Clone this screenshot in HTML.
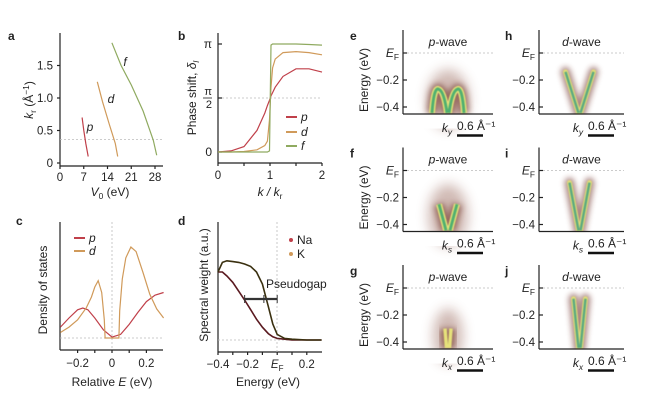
<!DOCTYPE html>
<html><head><meta charset="utf-8">
<style>
body{margin:0;background:#fff;}
svg{font-family:"Liberation Sans",Arial,sans-serif;}
</style></head>
<body>
<svg id="fig" width="650" height="412" viewBox="0 0 650 412" xmlns="http://www.w3.org/2000/svg">
<defs>
<filter id="b0" x="-100%" y="-100%" width="300%" height="300%"><feGaussianBlur stdDeviation="6"/></filter>
<filter id="b1" x="-100%" y="-50%" width="300%" height="200%"><feGaussianBlur stdDeviation="3"/></filter>
<filter id="b2" x="-100%" y="-50%" width="300%" height="200%"><feGaussianBlur stdDeviation="1.5"/></filter>
<filter id="b3" x="-100%" y="-50%" width="300%" height="200%"><feGaussianBlur stdDeviation="0.6"/></filter>
</defs>
<g id="root"></g>
</svg>
<script>
// ---- panel a data ----
const aV_p=[6.5,7.0,7.6,8.3]; const aK_p=[0.7,0.5,0.3,0.1];
const aV_d=[11,12.5,14.5,16.3,17]; const aK_d=[1.25,0.95,0.6,0.3,0.1];
const aV_f=[15.3,18,21,24.5,27.5,28.5]; const aK_f=[1.85,1.5,1.2,0.8,0.35,0.12];
const aXTicks=[0,7,14,21,28]; const aYTicks=[0,0.5,1.0,1.5];
// ---- panel b data ----
const bK=[0,0.25,0.5,0.75,0.9,0.95,0.99,1.02,1.05,1.1,1.25,1.5,1.75,2];
const bP=[0,0.01,0.05,0.2,0.36,0.43,0.48,0.52,0.55,0.6,0.7,0.77,0.77,0.74];
const bD=[0,0,0.005,0.02,0.06,0.1,0.3,0.6,0.78,0.86,0.92,0.93,0.92,0.9];
const bF=[0,0,0,0,0,0,0.01,0.99,1,1,1,1,0.995,0.99];
const bXTicks=[0,1,2];
// ---- panel c data ----
const cE=[-0.3,-0.25,-0.2,-0.17,-0.14,-0.1,-0.05,0,0.05,0.1,0.15,0.2,0.25,0.3];
const cP=[0.12,0.22,0.31,0.33,0.31,0.22,0.09,0.01,0.04,0.15,0.28,0.4,0.47,0.5];
const cDE=[-0.3,-0.25,-0.2,-0.15,-0.12,-0.1,-0.08,-0.06,-0.045,-0.04,0.04,0.045,0.06,0.08,0.11,0.14,0.18,0.22,0.26,0.3];
const cD=[0.06,0.12,0.2,0.33,0.45,0.56,0.63,0.5,0.2,0,0,0.3,0.65,0.88,1.0,0.95,0.72,0.48,0.32,0.22];
const cXTicks=[-0.2,0,0.2];
// ---- panel d data ----
const dE=[-0.4,-0.37,-0.34,-0.3,-0.26,-0.22,-0.18,-0.14,-0.1,-0.06,-0.03,0,0.05,0.1,0.2,0.3];
const dNa=[0.85,0.85,0.8,0.72,0.61,0.5,0.38,0.26,0.16,0.08,0.04,0.02,0.01,0,0,0];
const dKs=[0.85,0.97,0.99,0.98,0.97,0.95,0.92,0.85,0.7,0.42,0.2,0.07,0.02,0.01,0,0];
const dXTicks=[-0.4,-0.2,0,0.2]; const dXLabels=["−0.4","−0.2","E_F","0.2"];
// ---- heatmap panels ----
const hmTitles=["p","d"]; const hmRows=["y","s","x"];
const hmLetters=[["e","h"],["f","i"],["g","j"]];
const hmYTicks=[0,-0.2,-0.4];
const hmTopE=[[-0.27,-0.25,-0.3],[-0.14,-0.09,-0.08]];
const hmSpread=[[9,8,3],[13,9,5]];

const NS="http://www.w3.org/2000/svg";
const root=document.getElementById('root');
function el(tag,attrs,parent,text){const e=document.createElementNS(NS,tag);for(const k in attrs)e.setAttribute(k,attrs[k]);if(text!==undefined)e.textContent=text;(parent||root).appendChild(e);return e;}
function line(x1,y1,x2,y2,st,w,dash){return el('line',{x1,y1,x2,y2,stroke:st||'#222','stroke-width':w||1.2,'stroke-dasharray':dash||'none'});}
function txt(x,y,s,size,anchor,extra,parent){return el('text',Object.assign({x,y,'font-size':size||12,'text-anchor':anchor||'middle',fill:'#222'},extra||{}),parent||root,s);}
function rich(x,y,parts,size,anchor,extra,parent){const t=el('text',Object.assign({x,y,'font-size':size||12,'text-anchor':anchor||'middle',fill:'#222'},extra||{}),parent||root);
 parts.forEach(p=>{const a={};if(p.i)a['font-style']='italic';if(p.sub){a['font-size']=size*0.7;a.dy=3;}if(p.sup){a['font-size']=size*0.7;a.dy=-4;}if(p.back)a.dy=p.back;el('tspan',a,t,p.t);});return t;}
function poly(xs,ys,fx,fy,color,w,name){const d=xs.map((v,i)=>(i?'L':'M')+fx(v).toFixed(1)+','+fy(ys[i]).toFixed(1)).join('');const p=el('path',{d,fill:'none',stroke:color,'stroke-width':w||1.3});

return p;}
const RED='#c0404a',ORG='#d09a5a',GRN='#8faa60',GRID='#bbb';

// ===== panel a =====
const ax=v=>60+v*95/28, ay=k=>163-k*65;
let t=txt(8,40,'a',12,'start',{'font-weight':'bold'});


line(60,33,60,166);line(60,166,163,166);
line(60,ay(0.36),163,ay(0.36),GRID,0.8,'2,2');
aYTicks.forEach(v=>{line(57,ay(v),60,ay(v));txt(53,ay(v)+4,v===0?'0':v.toFixed(1),11.5,'end');});
aXTicks.forEach(v=>{line(ax(v),166,ax(v),169);txt(ax(v),181,String(v),11.5);});
poly(aV_p,aK_p,ax,ay,RED,1.2,'curve-a-p');poly(aV_d,aK_d,ax,ay,ORG,1.2,'curve-a-d');poly(aV_f,aK_f,ax,ay,GRN,1.2,'curve-a-f');
txt(90,131,'p',12,'middle',{'font-style':'italic'});txt(111,103,'d',12,'middle',{'font-style':'italic'});txt(125,66,'f',12,'middle',{'font-style':'italic'});
rich(110,196,[{t:'V',i:1},{t:'0',sub:1},{t:' (eV)',back:-3}],12);
rich(0,0,[{t:'k',i:1},{t:'r',sub:1},{t:' (Å',back:-3},{t:'−1',sup:1},{t:')',back:4}],12,'middle',{transform:'translate(33,100) rotate(-90)'});

// ===== panel b =====
const bx=k=>218+k*52, by=d=>152-d*108;
t=txt(178,40,'b',12,'start',{'font-weight':'bold'});


line(218,33,218,163);line(218,163,322,163);
line(218,by(0.5),322,by(0.5),GRID,0.8,'2,2');
[[0,'0'],[0.5,''],[1,'π']].forEach(([v,s])=>{line(218,by(v),222,by(v));if(s)txt(212,by(v)+4,s,12,'end');});
txt(212,by(0.5)-3,'π',11,'end');line(203,by(0.5),212,by(0.5),'#222',0.8);txt(212,by(0.5)+10,'2',11,'end');
bXTicks.forEach(v=>{line(bx(v),163,bx(v),166);txt(bx(v),179,String(v),11.5);});
[0.5,1.5].forEach(v=>line(bx(v),163,bx(v),166));
poly(bK,bP,bx,by,RED,1.2,'curve-b-p');poly(bK,bD,bx,by,ORG,1.2,'curve-b-d');poly(bK,bF,bx,by,GRN,1.2,'curve-b-f');
[['p',RED,117],['d',ORG,132],['f',GRN,146]].forEach(([s,c,y])=>{const l=line(286,y,297,y,c,2);txt(301,y+4,s,12,'start',{'font-style':'italic'});});
rich(270,196,[{t:'k / k',i:1},{t:'r',sub:1}],12);
rich(0,0,[{t:'Phase shift, '},{t:'δ',i:1},{t:'l',sub:1,i:1}],12,'middle',{transform:'translate(196,98) rotate(-90)'});

// ===== panel c =====
const cx=e=>112+e*172, cy=v=>338-v*91;
t=txt(16,225,'c',12,'start',{'font-weight':'bold'});


line(60,222,60,350);line(60,350,163,350);
line(60,338,163,338,GRID,0.8,'2,2');line(112,222,112,350,GRID,0.8,'2,2');
cXTicks.forEach(v=>{line(cx(v),350,cx(v),353);txt(cx(v),367,v===0?'0':(v<0?'−':'')+Math.abs(v).toFixed(1),11.5);});
[-0.1,0.1].forEach(v=>line(cx(v),350,cx(v),353));
poly(cE,cP,cx,cy,RED,1.2,'curve-c-p');poly(cDE,cD,cx,cy,ORG,1.2,'curve-c-d');
[['p',RED,238],['d',ORG,251]].forEach(([s,c,y])=>{line(74,y,85,y,c,2);txt(89,y+4,s,12,'start',{'font-style':'italic'});});
rich(112,386,[{t:'Relative '},{t:'E',i:1},{t:' (eV)'}],12);
txt(0,0,'Density of states',12,'middle',{transform:'translate(47,290) rotate(-90)'});

// ===== panel d =====
const dx=e=>218+(e+0.4)*148, dy=w=>340-w*80;
t=txt(178,225,'d',12,'start',{'font-weight':'bold'});


line(218,222,218,352);line(218,352,322,352);
line(218,340,322,340,GRID,0.8,'2,2');line(277,222,277,352,GRID,0.8,'2,2');
dXTicks.forEach((v,i)=>{line(dx(v),352,dx(v),355);const s=dXLabels[i];if(s==='E_F'){rich(dx(v),368,[{t:'E',i:1},{t:'F',sub:1}],11.5);}else txt(dx(v),368,s,11.5);});
[-0.3,-0.1,0.1].forEach(v=>line(dx(v),352,dx(v),355));
poly(dE,dNa,dx,dy,'#5a1a20',1.6,'curve-d-na');poly(dE,dKs,dx,dy,'#3a3010',1.6,'curve-d-k');
line(dx(-0.22),299,dx(0),299,'#333',2.2);line(dx(-0.22),295,dx(-0.22),303,'#333',1);line(dx(0),295,dx(0),303,'#333',1);line(dx(-0.09),295,dx(-0.09),303,'#333',1);
txt(266,288,'Pseudogap',12,'start');
el('circle',{cx:291,cy:240,r:2,fill:RED});txt(297,244,'Na',12,'start');
el('circle',{cx:291,cy:254,r:2,fill:ORG});txt(297,258,'K',12,'start');
txt(268,386,'Energy (eV)',12);
txt(0,0,'Spectral weight (a.u.)',12,'middle',{transform:'translate(208,285) rotate(-90)'});

// ===== heatmaps =====
const cols=[{ax:403,w:90,lx:350},{ax:539,w:85,lx:505}];
for(let r=0;r<3;r++){for(let c=0;c<2;c++){
  const off=r*117.5, X=cols[c].ax, W=cols[c].w;
  const hy=v=>53+off-v*135;
  const g=el('g',{});
  
  
  el('text',{x:cols[c].lx,y:40+off,'font-size':12,'font-weight':'bold',fill:'#222'},g,hmLetters[r][c]);
  el('line',{x1:X,y1:hy(0),x2:X+W,y2:hy(0),stroke:GRID,'stroke-width':0.8,'stroke-dasharray':'2,2'},g);
  const mx=X+W/2-(c===0?0:2), bot=113+off, top=hy(hmTopE[c][r]), sp=hmSpread[c][r];
  const cg=el('g',{},g);
  if(c===0){
    el('ellipse',{cx:mx,cy:(top+bot)/2-2,rx:sp+12,ry:(bot-top)/2+18,fill:'#7a3a2a',opacity:0.35,filter:'url(#b0)'},cg);
    let d;
    if(r===0) d=`M${mx-sp-7},${bot} Q${mx-sp-5},${top-4} ${mx-sp},${top} Q${mx-sp+5},${top+2} ${mx-1},${bot} M${mx+1},${bot} Q${mx+sp-5},${top+2} ${mx+sp},${top} Q${mx+sp+5},${top-4} ${mx+sp+7},${bot}`;
    else if(r===1) d=`M${mx-sp-1},${top} Q${mx-3},${top+22} ${mx-2},${bot} M${mx+sp+1},${top} Q${mx+3},${top+22} ${mx+2},${bot}`;
    else d=`M${mx-sp},${top} L${mx-1.5},${bot} M${mx+sp},${top} L${mx+1.5},${bot}`;
    el('path',{d,fill:'none',stroke:'#6a2a1a','stroke-width':11,opacity:0.55,filter:'url(#b1)'},cg);
    el('path',{d,fill:'none',stroke:'#e6e27a','stroke-width':r===2?3.5:6,filter:'url(#b3)'},cg);
    if(r<2) el('path',{d,fill:'none',stroke:'#4fb070','stroke-width':3,filter:'url(#b3)'},cg);
  } else {
    const d=`M${mx-sp-1},${top} L${mx-1},${bot} M${mx+sp+1},${top} L${mx+1},${bot}`;
    el('path',{d,fill:'none',stroke:'#6a2a20','stroke-width':10,opacity:0.55,'stroke-linecap':'round',filter:'url(#b1)'},cg);
    el('path',{d,fill:'none',stroke:'#e0dc78','stroke-width':5,'stroke-linecap':'round',filter:'url(#b3)'},cg);
    el('path',{d,fill:'none',stroke:'#5aaa80','stroke-width':2.5,filter:'url(#b3)'},cg);
  }
  el('rect',{x:X-20,y:114.6+off,width:W+30,height:14,fill:'#fff'},g);
  el('line',{x1:X,y1:30+off,x2:X,y2:114+off,stroke:'#222','stroke-width':1.2},g);
  el('line',{x1:X,y1:114+off,x2:X+W,y2:114+off,stroke:'#222','stroke-width':1.2},g);
  hmYTicks.forEach(v=>{el('line',{x1:X,y1:hy(v),x2:X+4,y2:hy(v),stroke:'#222','stroke-width':1.2},g);
    if(v===0){rich(X-4,hy(v)+4,[{t:'E',i:1},{t:'F',sub:1}],12,'end',{},g);}
    else txt(X-4,hy(v)+4,'−'+Math.abs(v).toFixed(1),11.5,'end',{},g);});
  rich(X+W/2,46+off,[{t:hmTitles[c],i:1},{t:'-wave'}],12,'middle',{},g);
  if(c===0) txt(0,0,'Energy (eV)',12,'middle',{transform:`translate(${X-35},${80+off}) rotate(-90)`},g);
  const sbx=X+W-36;
  rich(sbx-10,132+off,[{t:'k',i:1},{t:hmRows[r],sub:1,i:1}],12,'middle',{},g);
  txt(sbx,130+off,'0.6 Å⁻¹',12,'start',{},g);
  el('line',{x1:sbx,y1:135.5+off,x2:sbx+26,y2:135.5+off,stroke:'#111','stroke-width':2.5},g);
}}
</script>
</body></html>
